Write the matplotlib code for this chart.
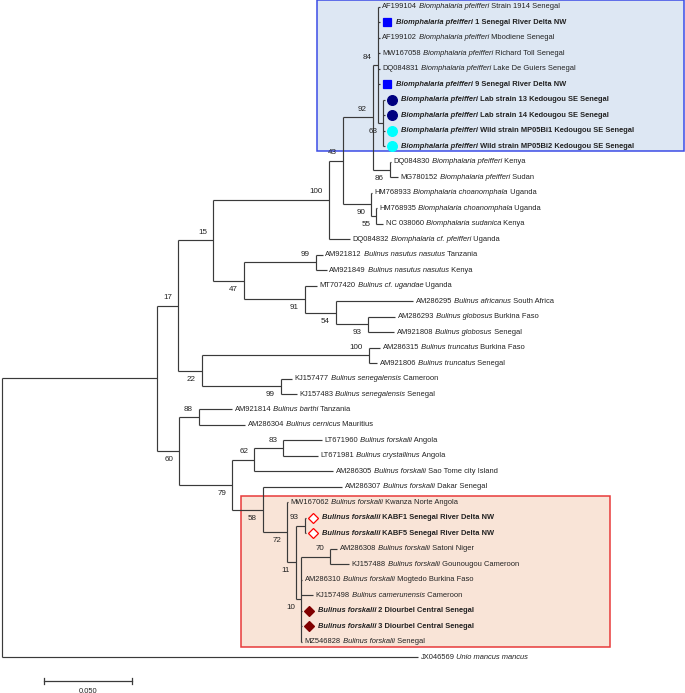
import re
import matplotlib
matplotlib.use('Agg')
import matplotlib.pyplot as plt
from matplotlib.patches import Rectangle

plt.rcParams['font.family'] = ['Liberation Sans', 'DejaVu Sans']

# tree topology, branch lengths (subst./site) and bootstrap support
NEWICK = """
(((((((((L0:0.001,L1:0.001,L2:0.001,L3:0.001,L4:0.001,L5:0.001,
(L6:0.001,L7:0.001,L8:0.001,L9:0.001)63:0.0029)84:0.0029,
(L10:0.0006,L11:0.0046)86:0.0097)92:0.0171,
(L12:0.0006,(L13:0.0003,L14:0.004)55:0.0029)90:0.016)43:0.008,
L15:0.012)100:0.0663,
((L16:0.004,L17:0.0063)99:0.0411,
(L18:0.0069,(L19:0.044,(L20:0.0154,L21:0.0149)93:0.0183)54:0.0177)91:0.0349)47:0.0177)15:0.02,
((L22:0.0063,L23:0.0046)100:0.0954,
(L24:0.0063,L25:0.0091)99:0.0451)22:0.0137)17:0.012,
((L26:0.0189,L27:0.0263)88:0.0114,
(((L28:0.0223,L29:0.02)83:0.0166,L30:0.0451)62:0.0126,
(L31:0.0451,(L32:0.0006,((L33:0.0006,L34:0.0006)93:0.0051,
((L35:0.004,L36:0.0109)70:0.0166,L37:0.0006,L38:0.0069,L39:0.0003,L40:0.0003,L41:0.0006)10:0.0029
)11:0.0051)72:0.0137)58:0.0177)79:0.0303)60:0.0126):0.0886,
L42:0.2377);
"""

accessions = [
    'AF199104', '', 'AF199102', 'MW167058', 'DQ084831', '', '', '', '', '',
    'DQ084830', 'MG780152', 'HM768933', 'HM768935', 'NC 038060', 'DQ084832',
    'AM921812', 'AM921849', 'MT707420', 'AM286295', 'AM286293', 'AM921808',
    'AM286315', 'AM921806', 'KJ157477', 'KJ157483', 'AM921814', 'AM286304',
    'LT671960', 'LT671981', 'AM286305', 'AM286307', 'MW167062', '', '',
    'AM286308', 'KJ157488', 'AM286310', 'KJ157498', '', '', 'MZ546828', 'JX046569',
]
species = (
    ['Biomphalaria pfeifferi'] * 12
    + ['Biomphalaria choanomphala'] * 2
    + ['Biomphalaria sudanica', 'Biomphalaria cf. pfeifferi',
       'Bulinus nasutus nasutus', 'Bulinus nasutus nasutus', 'Bulinus cf. ugandae',
       'Bulinus africanus', 'Bulinus globosus', 'Bulinus globosus',
       'Bulinus truncatus', 'Bulinus truncatus',
       'Bulinus senegalensis', 'Bulinus senegalensis',
       'Bulinus barthi', 'Bulinus cernicus', 'Bulinus forskalii', 'Bulinus crystallinus']
    + ['Bulinus forskalii'] * 8
    + ['Bulinus camerunensis', 'Bulinus forskalii', 'Bulinus forskalii',
       'Bulinus forskalii', 'Unio mancus mancus']
)
places = [
    'Strain 1914 Senegal', '1 Senegal River Delta NW', 'Mbodiene Senegal',
    'Richard Toll Senegal', 'Lake De Guiers Senegal', '9 Senegal River Delta NW',
    'Lab strain 13 Kedougou SE Senegal', 'Lab strain 14 Kedougou SE Senegal',
    'Wild strain MP05Bi1 Kedougou SE Senegal', 'Wild strain MP05Bi2 Kedougou SE Senegal',
    'Kenya', 'Sudan', 'Uganda', 'Uganda', 'Kenya', 'Uganda',
    'Tanzania', 'Kenya', 'Uganda', 'South Africa', 'Burkina Faso', 'Senegal',
    'Burkina Faso', 'Senegal', 'Cameroon', 'Senegal', 'Tanzania', 'Mauritius',
    'Angola', 'Angola', 'Sao Tome city Island', 'Dakar Senegal', 'Kwanza Norte Angola',
    'KABF1 Senegal River Delta NW', 'KABF5 Senegal River Delta NW',
    'Satoni Niger', 'Gounougou Cameroon', 'Mogtedo Burkina Faso', 'Cameroon',
    '2 Diourbel Central Senegal', '3 Diourbel Central Senegal', 'Senegal', '',
]
# samples from this study: leaf index -> (marker, face, edge)
study_samples = {
    1: ('s', '#0000ff', '#0000ff'), 5: ('s', '#0000ff', '#0000ff'),
    6: ('o', '#000080', '#000080'), 7: ('o', '#000080', '#000080'),
    8: ('o', '#00ffff', '#00ffff'), 9: ('o', '#00ffff', '#00ffff'),
    33: ('D', 'white', '#ff0000'), 34: ('D', 'white', '#ff0000'),
    39: ('D', '#800000', '#800000'), 40: ('D', '#800000', '#800000'),
}
# highlighted clades: (first leaf, last leaf, x from, x to, face, edge)
clade_boxes = [
    (0, 9, 0.180, 0.3897, '#dde7f3', '#3c4ce6'),
    (32, 41, 0.1366, 0.3474, '#f9e4d7', '#e83a3a'),
]
scale_len = 0.05


def parse_newick(s):
    s = re.sub(r'\s+', '', s)
    pos = 0

    def node():
        nonlocal pos
        kids = []
        if s[pos] == '(':
            pos += 1
            while True:
                kids.append(node())
                if s[pos] == ',':
                    pos += 1
                    continue
                pos += 1
                break
        m = re.match(r'([^:,();]*)(?::([0-9.]+))?', s[pos:])
        pos += m.end()
        return {'name': m.group(1), 'len': float(m.group(2) or 0), 'kids': kids}

    return node()


def layout(n, x0):
    n['x'] = x0 + n['len']
    if n['kids']:
        for k in n['kids']:
            layout(k, n['x'])
        n['y'] = (n['kids'][0]['y'] + n['kids'][-1]['y']) / 2
    else:
        n['y'] = int(n['name'][1:])


tree = parse_newick(NEWICK)
tree['len'] = 0
layout(tree, 0)

PX = 1750.0   # pixels per unit of branch length
ROW = 15.48   # pixels per leaf row
W, H = 685, 693
fig = plt.figure(figsize=(W / 100, H / 100), dpi=100)
ax = fig.add_axes([0, 0, 1, 1])
ax.set_xlim(-2 / PX, (W - 2) / PX)
ax.set_ylim((H - 7) / ROW, -7 / ROW)
ax.axis('off')

FS = 5.4      # leaf labels
FS_BS = 5.8   # bootstrap values
TC = '#222222'
LC = '#3a3a3a'

for first, last, x0, x1, fc, ec in clade_boxes:
    ax.add_patch(Rectangle((x0, first - 0.42), x1 - x0, last - first + 0.75,
                           facecolor=fc, edgecolor=ec, lw=1.1, zorder=0))

segs = []


def walk(n, is_first, is_last):
    if n['kids']:
        ys = [k['y'] for k in n['kids']]
        segs.append(((n['x'], ys[0]), (n['x'], ys[-1])))
        nk = len(n['kids'])
        for i, k in enumerate(n['kids']):
            segs.append(((n['x'], k['y']), (k['x'], k['y'])))
            walk(k, i == 0, i == nk - 1)
        if n['name']:
            dy = -0.52 if is_first else 0.55
            ax.text(n['x'] - 6 / PX, n['y'] + dy, n['name'], ha='right', va='center',
                    fontsize=FS_BS, color=TC)
    else:
        draw_leaf(n)


def draw_leaf(n):
    i = n['y']
    bold = i in study_samples
    if bold:
        mk, fc, ec = study_samples[i]
        ms = {'s': 5.6, 'o': 7.0, 'D': 5.0}[mk]
        ax.plot(n['x'] + 7.5 / PX, i, marker=mk, ms=ms, mfc=fc, mec=ec, mew=0.9,
                ls='none', zorder=3)
        x = n['x'] + 16 / PX
    else:
        x = n['x'] + 2.5 / PX
    weight = 'bold' if bold else 'normal'
    pieces = [(accessions[i], 'normal'), (species[i], 'italic'), (places[i], 'normal')]
    t = None
    for txt, style in pieces:
        if not txt:
            continue
        if t is None:
            t = ax.text(x, i, txt, ha='left', va='center', fontsize=FS, color=TC,
                        style=style, weight=weight)
        else:
            t = ax.annotate(' ' + txt, xy=(1, 0), xycoords=t, ha='left', va='bottom',
                            fontsize=FS, color=TC, style=style, weight=weight)


walk(tree, True, False)
for (xa, ya), (xb, yb) in segs:
    ax.plot([xa, xb], [ya, yb], color=LC, lw=0.85, solid_capstyle='butt', zorder=2)

# scale bar
sb_x = 42 / PX
sb_y = (681 - 7) / ROW
ax.plot([sb_x, sb_x + scale_len], [sb_y, sb_y], color=LC, lw=0.9)
for xe in (sb_x, sb_x + scale_len):
    ax.plot([xe, xe], [sb_y - 0.22, sb_y + 0.22], color=LC, lw=0.9)
ax.text(sb_x + scale_len / 2, sb_y + 0.6, f'{scale_len:.3f}'.replace('.', ','),
        ha='center', va='center', fontsize=FS, color=TC)

fig.savefig('out.png', dpi=100)
